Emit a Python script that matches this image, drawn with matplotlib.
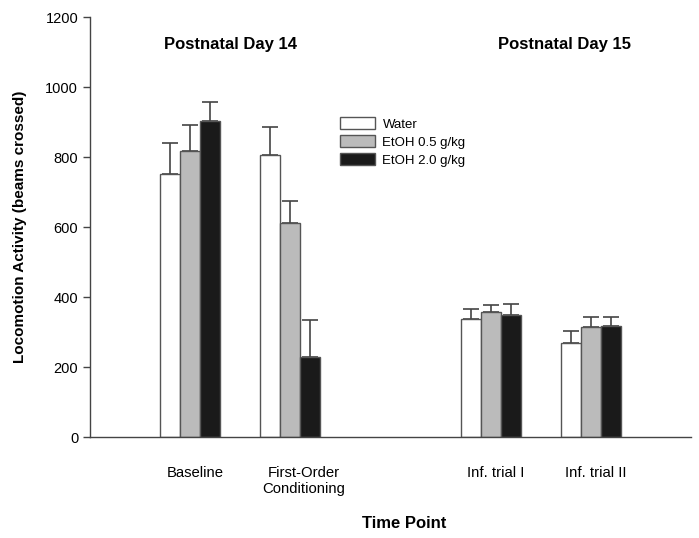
import matplotlib
matplotlib.use("Agg")
import matplotlib.pyplot as plt
import matplotlib.transforms as mtransforms
import numpy as np

plt.rcParams['font.family'] = ['Liberation Sans', 'DejaVu Sans']

# donnees
time_points = ["Baseline", "First-Order\nConditioning", "Inf. trial I", "Inf. trial II"]
group_pos = [1, 2, 4, 5]
groups = ["Water", "EtOH 0.5 g/kg", "EtOH 2.0 g/kg"]
water_mean = [751, 805, 338, 270]
water_sem = [88, 82, 29, 32]
etoh05_mean = [818, 611, 358, 314]
etoh05_sem = [74, 64, 20, 30]
etoh20_mean = [902, 230, 349, 316]
etoh20_sem = [55, 103, 30, 26]

means = [water_mean, etoh05_mean, etoh20_mean]
sems = [water_sem, etoh05_sem, etoh20_sem]
colors = ["white", "#bbbbbb", "#1a1a1a"]

fig = plt.figure(figsize=(6.99, 5.38), dpi=100)
ax = fig.add_axes([0.1288, 0.1877, 0.86, 0.7807])

width = 0.2
edge = "#555555"
for k in range(3):
    x = np.array(group_pos) + (k - 1) * width
    ax.bar(x, means[k], width, color=colors[k], edgecolor=edge, linewidth=1.0,
           label=groups[k], zorder=2)
    ax.errorbar(x, means[k], yerr=[np.zeros(4), sems[k]], fmt="none",
                ecolor="#444444", elinewidth=1.2, capsize=6, capthick=1.2, zorder=1)

ax.set_xlim(0, 6)
ax.set_ylim(0, 1200)
ax.set_yticks(range(0, 1201, 200))
ax.tick_params(axis='y', direction='out', length=5, width=1, colors="#444444",
               labelcolor="black", labelsize=10.5)
ax.set_xticks(group_pos)
ax.set_xticklabels(time_points, fontsize=10.7)
ax.tick_params(axis='x', length=0, pad=21)
# petit decalage des labels vers la droite (en pixels)
shifts = [5, 13, 5, 5]
for lab, dx in zip(ax.get_xticklabels(), shifts):
    off = mtransforms.ScaledTranslation(dx / 100, 0, fig.dpi_scale_trans)
    lab.set_transform(lab.get_transform() + off)

for s in ["top", "right"]:
    ax.spines[s].set_visible(False)
for s in ["left", "bottom"]:
    ax.spines[s].set_color("#444444")
    ax.spines[s].set_linewidth(1.0)

ax.set_ylabel("Locomotion Activity (beams crossed)", fontsize=11,
              fontweight='bold', labelpad=13)
fig.text(404 / 699, 1 - 524 / 538, "Time Point", fontsize=12, fontweight='bold',
         ha='center', va='center')

fig.text(230 / 699, 1 - 45 / 538, "Postnatal Day 14", fontsize=12,
         fontweight='bold', ha='center', va='center')
fig.text(565 / 699, 1 - 45 / 538, "Postnatal Day 15", fontsize=12,
         fontweight='bold', ha='center', va='center')

leg = ax.legend(loc='upper left', bbox_to_anchor=(335 / 699, 1 - 112 / 538),
                bbox_transform=fig.transFigure, frameon=False, fontsize=9.5,
                handlelength=2.6, handleheight=1.0, labelspacing=0.35,
                handletextpad=0.6, borderaxespad=0)

fig.savefig("out.png", dpi=100)
